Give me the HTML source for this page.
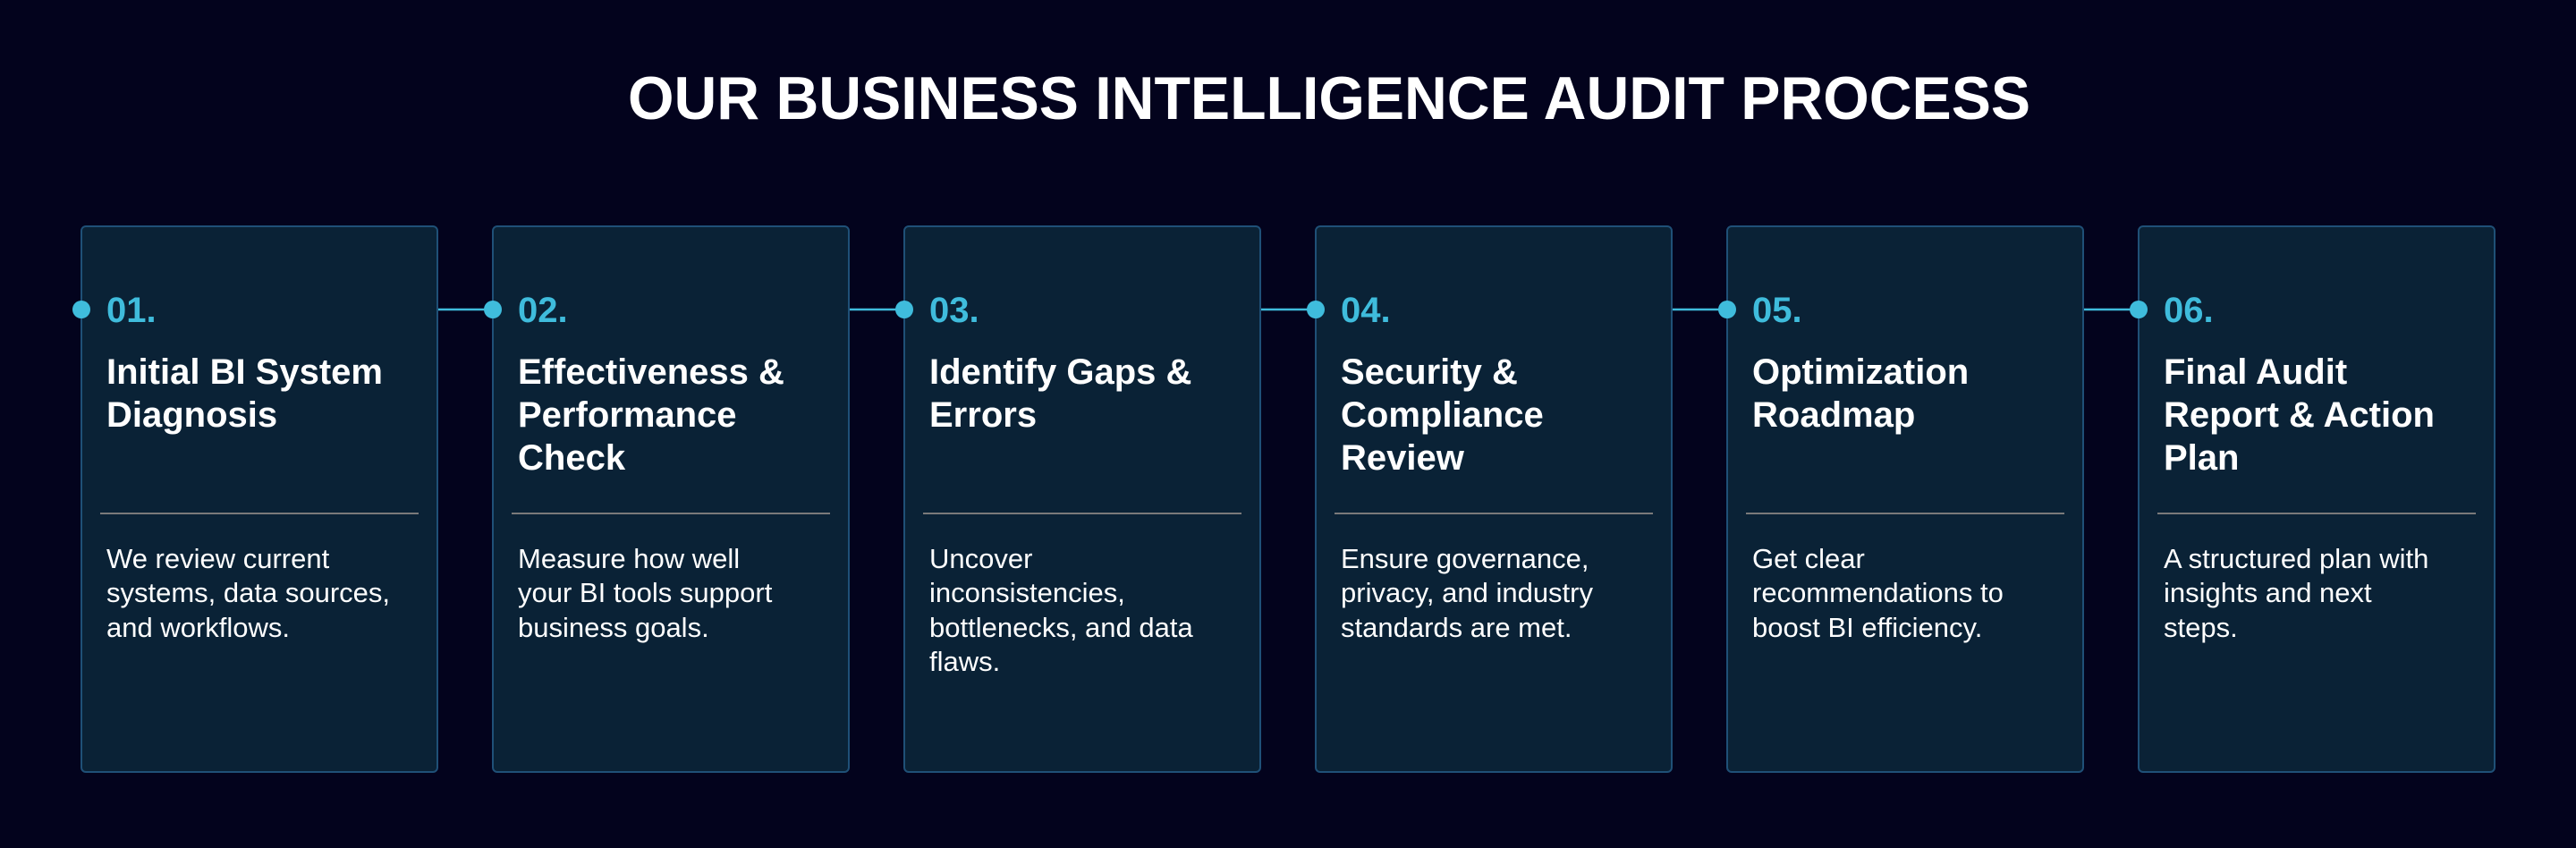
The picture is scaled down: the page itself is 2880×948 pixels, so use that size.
<!DOCTYPE html>
<html><head><meta charset="utf-8"><style>
html,body{margin:0;padding:0;background:#03031d;}
svg{display:block}
text{font-family:"Liberation Sans",sans-serif}
.n{fill:#3fbcdc;font-weight:bold;font-size:40px}
.t{fill:#fff;font-weight:bold;font-size:40px}
.b{fill:#fff;font-size:31px}
</style></head><body>
<svg width="2880" height="948" viewBox="0 0 2880 948" xmlns="http://www.w3.org/2000/svg">
<rect width="2880" height="948" fill="#03031d"/>
<text x="702" y="133" fill="#fff" font-weight="bold" font-size="68" textLength="1568" lengthAdjust="spacingAndGlyphs">OUR BUSINESS INTELLIGENCE AUDIT PROCESS</text>
<g stroke="#3fbcdc" stroke-width="2.5">
<line x1="489" y1="346" x2="551" y2="346"/><line x1="949" y1="346" x2="1011" y2="346"/><line x1="1409" y1="346" x2="1471" y2="346"/><line x1="1869" y1="346" x2="1931" y2="346"/><line x1="2329" y1="346" x2="2391" y2="346"/>
</g>
<g fill="#0a2236" stroke="#1f5077" stroke-width="2">
<rect x="91" y="253" width="398" height="610" rx="5"/><rect x="551" y="253" width="398" height="610" rx="5"/><rect x="1011" y="253" width="398" height="610" rx="5"/><rect x="1471" y="253" width="398" height="610" rx="5"/><rect x="1931" y="253" width="398" height="610" rx="5"/><rect x="2391" y="253" width="398" height="610" rx="5"/>
</g>
<g fill="#3fbcdc">
<circle cx="91" cy="346" r="10"/><circle cx="551" cy="346" r="10"/><circle cx="1011" cy="346" r="10"/><circle cx="1471" cy="346" r="10"/><circle cx="1931" cy="346" r="10"/><circle cx="2391" cy="346" r="10"/>
</g>
<g stroke="#7a7a7a" stroke-width="2">
<line x1="112" y1="574" x2="468" y2="574"/><line x1="572" y1="574" x2="928" y2="574"/><line x1="1032" y1="574" x2="1388" y2="574"/><line x1="1492" y1="574" x2="1848" y2="574"/><line x1="1952" y1="574" x2="2308" y2="574"/><line x1="2412" y1="574" x2="2768" y2="574"/>
</g>
<g>
<text class="n" x="119" y="360">01.</text>
<text class="t" x="119" y="429">Initial BI System</text><text class="t" x="119" y="477">Diagnosis</text>
<text class="b" x="119" y="635">We review current</text><text class="b" x="119" y="673">systems, data sources,</text><text class="b" x="119" y="712">and workflows.</text>

<text class="n" x="579" y="360">02.</text>
<text class="t" x="579" y="429">Effectiveness &amp;</text><text class="t" x="579" y="477">Performance</text><text class="t" x="579" y="525">Check</text>
<text class="b" x="579" y="635">Measure how well</text><text class="b" x="579" y="673">your BI tools support</text><text class="b" x="579" y="712">business goals.</text>

<text class="n" x="1039" y="360">03.</text>
<text class="t" x="1039" y="429">Identify Gaps &amp;</text><text class="t" x="1039" y="477">Errors</text>
<text class="b" x="1039" y="635">Uncover</text><text class="b" x="1039" y="673">inconsistencies,</text><text class="b" x="1039" y="712">bottlenecks, and data</text><text class="b" x="1039" y="750">flaws.</text>

<text class="n" x="1499" y="360">04.</text>
<text class="t" x="1499" y="429">Security &amp;</text><text class="t" x="1499" y="477">Compliance</text><text class="t" x="1499" y="525">Review</text>
<text class="b" x="1499" y="635">Ensure governance,</text><text class="b" x="1499" y="673">privacy, and industry</text><text class="b" x="1499" y="712">standards are met.</text>

<text class="n" x="1959" y="360">05.</text>
<text class="t" x="1959" y="429">Optimization</text><text class="t" x="1959" y="477">Roadmap</text>
<text class="b" x="1959" y="635">Get clear</text><text class="b" x="1959" y="673">recommendations to</text><text class="b" x="1959" y="712">boost BI efficiency.</text>

<text class="n" x="2419" y="360">06.</text>
<text class="t" x="2419" y="429">Final Audit</text><text class="t" x="2419" y="477">Report &amp; Action</text><text class="t" x="2419" y="525">Plan</text>
<text class="b" x="2419" y="635">A structured plan with</text><text class="b" x="2419" y="673">insights and next</text><text class="b" x="2419" y="712">steps.</text>
</g>
</svg>
</body></html>
